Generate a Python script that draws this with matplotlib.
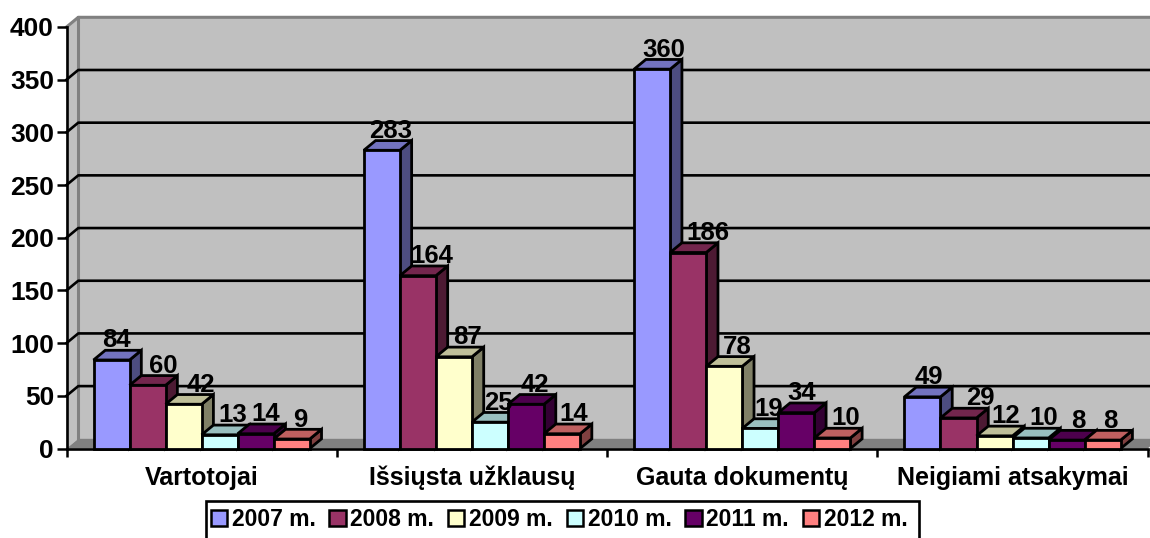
import matplotlib
matplotlib.use("Agg")
import matplotlib.pyplot as plt
from matplotlib.patches import Polygon, Patch, Rectangle
from matplotlib.colors import to_rgb

categories = ["Vartotojai", "Išsiųsta užklausų", "Gauta dokumentų", "Neigiami atsakymai"]
years = ["2007 m.", "2008 m.", "2009 m.", "2010 m.", "2011 m.", "2012 m."]
v2007 = [84, 283, 360, 49]
v2008 = [60, 164, 186, 29]
v2009 = [42, 87, 78, 12]
v2010 = [13, 25, 19, 10]
v2011 = [14, 42, 34, 8]
v2012 = [9, 14, 10, 8]
series = [v2007, v2008, v2009, v2010, v2011, v2012]
colors = ["#9999FF", "#993366", "#FFFFCC", "#CCFFFF", "#660066", "#FF8080"]
yticks = [0, 50, 100, 150, 200, 250, 300, 350, 400]

# horizontal label shift from bar centre, in pixels, per series then category
label_shift = [[5, 9, 12, 6], [16, 14, 20, 22], [17, 14, 13, 11],
               [13, 8, 8, 13], [10, 9, 5, 12], [9, 12, 13, 8]]

W, H = 1150, 538
plt.rcParams["font.family"] = ["Liberation Sans", "DejaVu Sans"]
plt.rcParams["font.weight"] = "bold"
fig = plt.figure(figsize=(W / 100, H / 100), dpi=100)
L, R, B, T = 66.5, 1147.7, 448.5, 27
ax = fig.add_axes([L / W, 1 - B / H, (R - L) / W, (B - T) / H])
ax.set_xlim(0, 4)
ax.set_ylim(0, 400)
ax.patch.set_visible(False)

dx, dy = 0.0435, 9.2   # depth of the 3-D box in data units
lw = 2.0
px = 4 / (R - L)


def poly(pts, fc, ec="black", z=2, lw_=lw):
    ax.add_patch(Polygon(pts, closed=True, fc=fc, ec=ec, lw=lw_, zorder=z,
                         clip_on=False, joinstyle="miter"))


def shade(c, k):
    return tuple(v * k for v in to_rgb(c))


# walls and floor
poly([(0, 0), (dx, dy), (dx, 400 + dy), (0, 400)], "#C0C0C0", ec="none", z=1)
poly([(dx, dy), (4 + dx, dy), (4 + dx, 400 + dy), (dx, 400 + dy)], "#C0C0C0", ec="none", z=1)
poly([(0, 0), (4, 0), (4 + dx, dy), (dx, dy)], "#808080", ec="none", z=1.1)
ax.plot([dx, dx], [dy, 400 + dy], color="#808080", lw=2.2, zorder=1.2, clip_on=False)
ax.plot([0, dx, 4 + dx], [400, 400 + dy, 400 + dy], color="#808080", lw=2.2, zorder=1.2, clip_on=False)
for t in yticks[1:-1]:
    ax.plot([0, dx, 4 + dx], [t, t + dy, t + dy], color="black", lw=1.9, zorder=1.5, clip_on=False)

# bars
bw = 0.8 / 6
for c in range(len(categories)):
    for s, vals in enumerate(series):
        x0 = c + 0.1 + s * bw
        x1 = x0 + bw
        v = vals[c]
        col = colors[s]
        poly([(x1, 0), (x1 + dx, dy), (x1 + dx, v + dy), (x1, v)], shade(col, 0.5), z=3 + s * 0.1)
        poly([(x0, v), (x1, v), (x1 + dx, v + dy), (x0 + dx, v + dy)], shade(col, 0.75), z=3 + s * 0.1)
        poly([(x0, 0), (x1, 0), (x1, v), (x0, v)], col, z=3 + s * 0.1)
        ax.text(x0 + bw / 2 + label_shift[s][c] * px, v + 18.5, str(v), ha="center", va="center",
                fontsize=18.5, fontweight="bold", color="black", zorder=6, clip_on=False)

ax.set_xticks(range(5))
ax.set_xticklabels([])
for c, name in enumerate(categories):
    ax.text(c + 0.5, -28, name, ha="center", va="center", fontsize=18, fontweight="bold")
ax.set_yticks(yticks)
ax.set_yticklabels([str(t) for t in yticks], fontsize=19, fontweight="bold")
ax.tick_params(axis="y", length=7, width=1.8, pad=2)
ax.tick_params(axis="x", length=6, width=1.8)
ax.spines["top"].set_visible(False)
ax.spines["right"].set_visible(False)
ax.spines["left"].set_linewidth(1.9)
ax.spines["bottom"].set_linewidth(1.9)
for sp in ax.spines.values():
    sp.set_zorder(2.5)

# legend box runs off the bottom edge of the picture
fig.add_artist(Rectangle((206 / W, -10 / H), 713 / W, (H - 501 + 10) / H, transform=fig.transFigure,
                         fc="white", ec="black", lw=1.9, zorder=1))
handles = [Patch(fc=c, ec="black", lw=1.8) for c in colors]
leg = fig.legend(handles, years, ncol=6, loc="center", bbox_to_anchor=(559 / W, 1 - 519.5 / H),
                 fontsize=16.5, frameon=False, handlelength=0.72, handleheight=0.75,
                 handletextpad=0.2, columnspacing=0.6, borderpad=0, borderaxespad=0)
leg.set_zorder(2)

fig.savefig("out.png", dpi=100)
